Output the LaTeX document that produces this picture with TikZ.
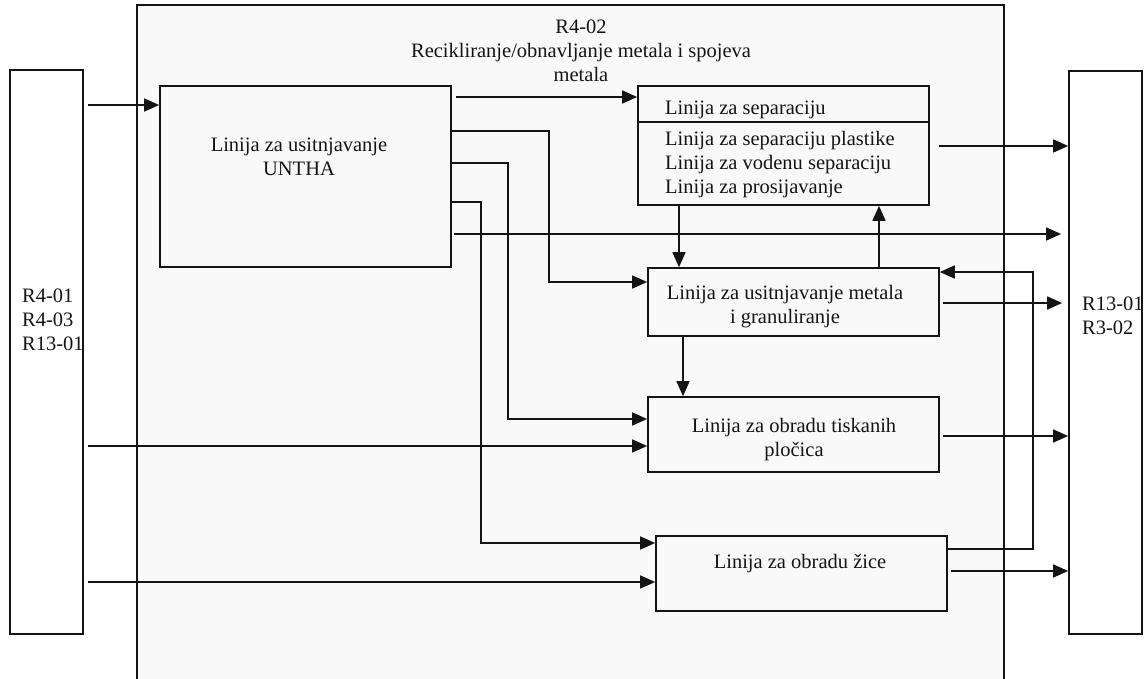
\documentclass[tikz,border=0pt]{standalone}
\usepackage{fontspec}
\setmainfont{Liberation Serif}
\usetikzlibrary{arrows.meta,calc}
\definecolor{ink}{HTML}{141414}
\definecolor{boxfill}{HTML}{F9F9F9}
\begin{document}
\begin{tikzpicture}[x=1pt,y=-1pt,
  every node/.style={font=\fontsize{20.5}{24}\selectfont, text=ink, inner sep=0pt},
  frame/.style={draw=ink, line width=1.7pt, rectangle, inner sep=0pt},
  procbox/.style={frame, fill=boxfill},
  sidebox/.style={frame, fill=white},
  conn/.style={draw=ink, line width=1.7pt},
  arr/.style={conn, -{Triangle[length=15pt,width=13pt]}}]

% page and visible area
\useasboundingbox (0,0) rectangle (1148,679);
\clip (0,0) rectangle (1148,679);
\fill[white] (0,0) rectangle (1148,679);

% enclosing process area R4-02 (open at the bottom)
\node[procbox, minimum width=867pt, minimum height=695pt] (zone) at (570.5,352.5) {};
\node[align=center] (title) at (581,51) {R4-02\\Recikliranje/obnavljanje metala i spojeva\\metala};

% inputs and outputs
\node[sidebox, minimum width=73pt, minimum height=564pt] (lp) at (46.5,352) {};
\node[align=left, anchor=west] (lpT) at (22,320) {R4-01\\R4-03\\R13-01};
\node[sidebox, minimum width=73pt, minimum height=563pt] (rp) at (1105.5,352.5) {};
\node[align=left, anchor=west] (rpT) at (1082,315.5) {R13-01\\R3-02};

% processing lines
\node[procbox, minimum width=291pt, minimum height=181pt] (un) at (305.5,176.5) {};
\node[align=center] (unT) at (299,156.5) {Linija za usitnjavanje\\UNTHA};

\node[procbox, minimum width=291pt, minimum height=119pt] (sep) at (783.5,145.5) {};
\draw[conn] (sep.west|-0,122) -- (sep.east|-0,122);
\node[anchor=west] (sepA) at (665,110) {Linija za separaciju};
\node[align=left, anchor=west] (sepB) at (665,164.5) {Linija za separaciju plastike\\Linija za vodenu separaciju\\Linija za prosijavanje};

\node[procbox, minimum width=291pt, minimum height=68pt] (met) at (793.5,302) {};
\node[align=center] (metT) at (785,306.5) {Linija za usitnjavanje metala\\i granuliranje};

\node[procbox, minimum width=291pt, minimum height=75pt] (pcb) at (793.5,434.5) {};
\node[align=center] (pcbT) at (794,440) {Linija za obradu tiskanih\\pločica};

\node[procbox, minimum width=291pt, minimum height=75pt] (wire) at (801.5,573.5) {};
\node (wireT) at (800,564) {Linija za obradu žice};

% flows from the input panel
\draw[arr] ($(lp.east|-0,105)+(4,0)$) -- (un.west|-0,105);
\draw[arr] ($(lp.east|-0,446)+(4,0)$) -- (pcb.west|-0,446);
\draw[arr] ($(lp.east|-0,582)+(4,0)$) -- (wire.west|-0,582);

% flows from the UNTHA shredder
\draw[arr] ($(un.east|-0,97)+(4,0)$) -- (sep.west|-0,97);
\draw[arr] (un.east|-0,131) -- (549,131) -- (549,282) -- (met.west|-0,282);
\draw[arr] (un.east|-0,163) -- (508,163) -- (508,419) -- (pcb.west|-0,419);
\draw[arr] (un.east|-0,202) -- (481,202) -- (481,543) -- (wire.west|-0,543);
\draw[arr] ($(un.east|-0,234)+(2,0)$) -- ($(rp.west|-0,234)+(-7,0)$);

% flows between the lines
\draw[arr] (sep.south-|679,0) -- (met.north-|679,0);
\draw[arr] (met.north-|879,0) -- (sep.south-|879,0);
\draw[arr] (met.south-|683,0) -- (pcb.north-|683,0);
\draw[arr] (wire.east|-0,549) -- (1033,549) -- (1033,272) -- (met.east|-0,272);

% flows to the output panel
\draw[arr] ($(sep.east|-0,146)+(9,0)$) -- (rp.west|-0,146);
\draw[arr] ($(met.east|-0,303)+(3,0)$) -- ($(rp.west|-0,303)+(-6,0)$);
\draw[arr] ($(pcb.east|-0,436)+(3,0)$) -- (rp.west|-0,436);
\draw[arr] ($(wire.east|-0,571)+(3,0)$) -- (rp.west|-0,571);
\end{tikzpicture}
\end{document}
